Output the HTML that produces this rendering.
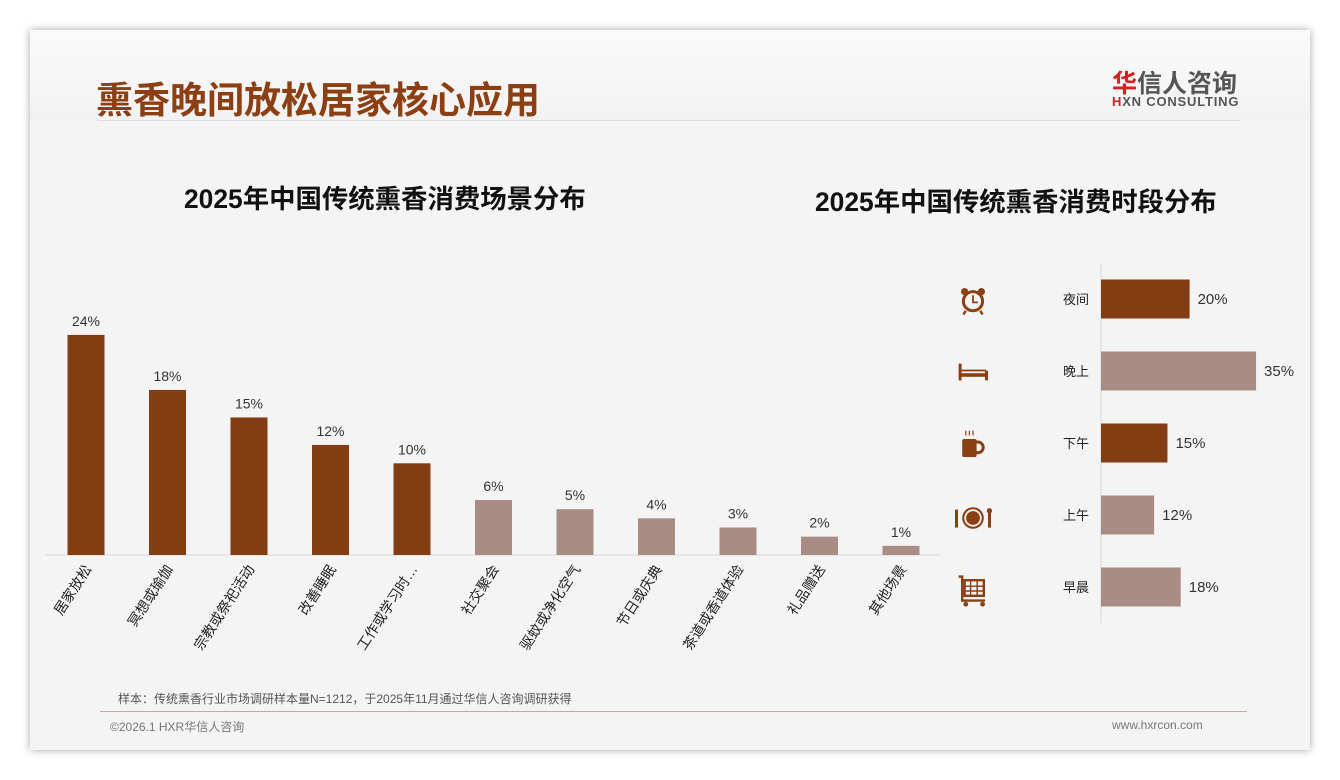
<!DOCTYPE html>
<html><head><meta charset="utf-8">
<style>
body{margin:0;width:1340px;height:780px;background:#fff;font-family:"Liberation Sans","Noto Sans CJK SC",sans-serif;overflow:hidden;position:relative}
#card{position:absolute;left:30px;top:30px;width:1280px;height:720px;background:#f4f4f4;box-shadow:0 0 8px rgba(0,0,0,0.35)}
#hdr{position:absolute;left:0;top:0;width:1280px;height:90px;background:linear-gradient(#fafafa,#f2f2f2)}
.t{position:absolute;white-space:nowrap}
</style></head><body>
<div id="card">
<div id="hdr"></div>
<div class="t" style="left:66px;top:40px;font-size:37px;font-weight:bold;color:#8B3F12">熏香晚间放松居家核心应用</div>
<div class="t" style="left:1082px;top:34px;font-size:25px;font-weight:bold;color:#555"><span style="color:#d42020">华</span>信人咨询</div>
<div class="t" style="left:1082px;top:64px;font-size:13px;font-weight:bold;color:#555;letter-spacing:0.8px"><span style="color:#d42020">H</span>XN CONSULTING</div>
<div style="position:absolute;left:67px;top:90px;width:1143px;height:1px;background:#ddd"></div>
<div class="t" style="left:154px;top:147px;font-size:26.4px;font-weight:bold;color:#111">2025年中国传统熏香消费场景分布</div>
<div class="t" style="left:785px;top:150px;font-size:26.4px;font-weight:bold;color:#111">2025年中国传统熏香消费时段分布</div>
<div class="t" style="left:88px;top:660px;font-size:12px;color:#555">样本：传统熏香行业市场调研样本量N=1212，于2025年11月通过华信人咨询调研获得</div>
<div style="position:absolute;left:70px;top:681px;width:1147px;height:1px;background:#c9a89a"></div>
<div class="t" style="left:80px;top:688px;font-size:12px;color:#777">©2026.1 HXR华信人咨询</div>
<div class="t" style="left:1082px;top:688px;font-size:12px;color:#777">www.hxrcon.com</div>
</div>
<svg id="chart" width="1340" height="780" style="position:absolute;left:0;top:0"></svg>
<script>
const sceneCats=["居家放松","冥想或瑜伽","宗教或祭祀活动","改善睡眠","工作或学习时…","社交聚会","驱蚊或净化空气","节日或庆典","茶道或香道体验","礼品赠送","其他场景"];
const sceneVals=[24,18,15,12,10,6,5,4,3,2,1];
const timeCats=["夜间","晚上","下午","上午","早晨"];
const timeVals=[20,35,15,12,18];
const timeHighlight=[true,false,true,false,false];
const NS="http://www.w3.org/2000/svg";
const svg=document.getElementById('chart');
function el(t,a,p){const e=document.createElementNS(NS,t);for(const k in a)e.setAttribute(k,a[k]);(p||svg).appendChild(e);return e;}
const DARK="#823D12",LIGHT="#A98C83";
const base=555,yS=v=>base-v*9.17,xC=i=>86+i*81.5;
let ax=el('line',{x1:45,x2:940,y1:base,y2:base,stroke:'#d8d8d8'});

sceneVals.forEach((v,i)=>{
 const r=el('rect',{x:xC(i)-18.5,y:yS(v),width:37,height:base-yS(v),fill:i<5?DARK:LIGHT});
 
 const t=el('text',{x:xC(i),y:yS(v)-9,'text-anchor':'middle','font-size':14,fill:'#333'});t.textContent=v+'%';
 
 const c=el('text',{x:0,y:0,'text-anchor':'end','font-size':14,fill:'#222',transform:`translate(${xC(i)+6},${base+14}) rotate(-57)`});c.textContent=sceneCats[i];
 
});
const x0=1101,xS=v=>x0+v*4.43,yR=i=>299+i*72;
let ay=el('line',{x1:x0,x2:x0,y1:263,y2:623,stroke:'#d8d8d8'});

timeVals.forEach((v,i)=>{
 const r=el('rect',{x:x0,y:yR(i)-19.5,width:xS(v)-x0,height:39,fill:timeHighlight[i]?DARK:LIGHT});
 
 const t=el('text',{x:xS(v)+8,y:yR(i)+5,'font-size':15,fill:'#333'});t.textContent=v+'%';
 
 const c=el('text',{x:1089,y:yR(i)+5,'text-anchor':'end','font-size':13,fill:'#222'});c.textContent=timeCats[i];
 
});
const B="#8B3F12";
function g(name,y){const e=el('g',{transform:`translate(973,${y}) scale(1.2)`});return e;}
let i1=g('clock-icon',300);el('circle',{cx:0,cy:1,r:8,fill:'none',stroke:B,'stroke-width':2.5},i1);el('path',{d:'M0 -4V2H4',stroke:B,'stroke-width':1.5,fill:'none'},i1);el('circle',{cx:-7,cy:-7,r:3,fill:B},i1);el('circle',{cx:7,cy:-7,r:3,fill:B},i1);el('path',{d:'M-6 9l-2 3M6 9l2 3',stroke:B,'stroke-width':2},i1);
let i2=g('bed-icon',372);el('rect',{x:-12,y:-7,width:2.5,height:14,fill:B},i2);el('rect',{x:10,y:-1,width:2.5,height:8,fill:B},i2);el('rect',{x:-10,y:1,width:21,height:3,fill:B},i2);el('rect',{x:-10,y:-2,width:21,height:1.5,fill:B},i2);
let i3=g('cup-icon',445);el('rect',{x:-9,y:-5,width:12,height:15,rx:1.5,fill:B},i3);el('circle',{cx:4,cy:2,r:4.5,fill:'none',stroke:B,'stroke-width':2.5},i3);el('path',{d:'M-6 -8v-4M-3 -8v-4M0 -8v-4',stroke:B,'stroke-width':1},i3);
let i4=g('dining-icon',518);el('circle',{cx:0,cy:0,r:9,fill:B},i4);el('circle',{cx:0,cy:0,r:6.5,fill:'none',stroke:'#f4f4f4','stroke-width':1.5},i4);el('rect',{x:-15,y:-7,width:2.5,height:15,fill:B},i4);el('rect',{x:12.5,y:-7,width:2.5,height:15,fill:B},i4);el('circle',{cx:13.7,cy:-6,r:2.2,fill:B},i4);
let i5=g('cart-icon',591);el('path',{d:'M-12 -12H-9V8H10',stroke:B,'stroke-width':2,fill:'none'},i5);el('rect',{x:-7,y:-9,width:16,height:13,fill:'none',stroke:B,'stroke-width':2},i5);el('path',{d:'M-7 -4H9M-7 0H9M-2 -9V4M3.5 -9V4',stroke:B,'stroke-width':1.2},i5);el('circle',{cx:-6,cy:11,r:2,fill:B},i5);el('circle',{cx:8,cy:11,r:2,fill:B},i5);
</script>
</body></html>
